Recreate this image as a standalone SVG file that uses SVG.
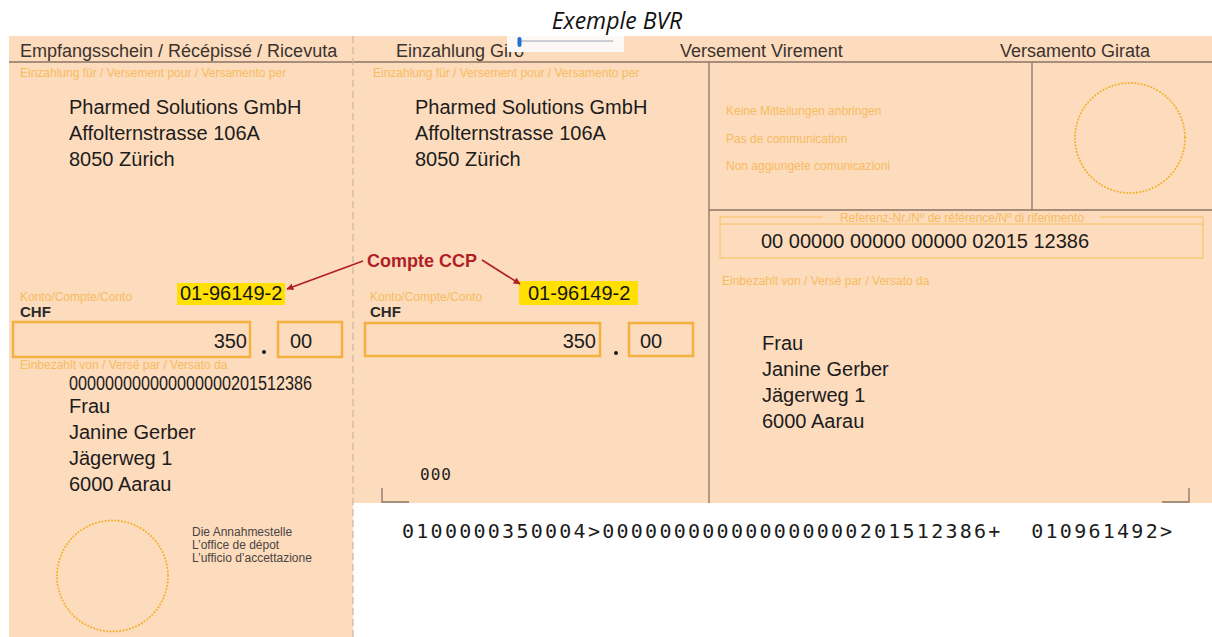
<svg xmlns="http://www.w3.org/2000/svg" width="1212" height="637" viewBox="0 0 1212 637">
<defs>
<style>
.bg{fill:#FDDBBD}
.hdr{font-family:"Liberation Sans",Arial,sans-serif;font-size:18px;fill:#3a332e}
.sm{font-family:"Liberation Sans",Arial,sans-serif;font-size:12px;fill:#F6BC5E}
.tx{font-family:"Liberation Sans",Arial,sans-serif;font-size:20px;fill:#1c1c1c}
.rule{stroke:#8a7566;stroke-width:1.3;fill:none}
.dash{stroke:#c9b5a3;stroke-width:1.2;stroke-dasharray:7 4;fill:none}
.box{fill:none;stroke:#F4B13F;stroke-width:2.5}
.ref{fill:none;stroke:#F6C15A;stroke-width:1}
.stamp{fill:none;stroke:#F2B128;stroke-width:2;stroke-dasharray:0.1 3.2;stroke-linecap:round}
.hl{fill:#FFE000}
.acc{font-family:"Liberation Sans",Arial,sans-serif;font-size:20px;fill:#141414}
.chf{font-family:"Liberation Sans",Arial,sans-serif;font-size:15px;font-weight:bold;fill:#2a2a2a}
.ocr{font-family:"DejaVu Sans Mono",monospace;fill:#1c1c1c}
.note{font-family:"Liberation Sans",Arial,sans-serif;font-size:12px;fill:#4a4440}
.red{stroke:#B01E25;stroke-width:1.6;fill:none}
</style>
<marker id="ah" viewBox="0 0 10 10" refX="9" refY="5" markerWidth="7" markerHeight="7" orient="auto" markerUnits="userSpaceOnUse">
<path d="M0,0 L10,5 L0,10 z" fill="#B01E25"/>
</marker>
</defs>

<rect width="1212" height="637" fill="#ffffff"/>
<text x="617" y="29" text-anchor="middle" font-family="'Open Sans',sans-serif" font-style="italic" font-size="23" fill="#111">Exemple BVR</text>

<g id="form-bg">
<rect class="bg" x="9" y="36" width="1203" height="467"/>
<rect class="bg" x="9" y="503" width="344" height="134"/>
</g>

<g id="header">
<line class="rule" x1="9" y1="62" x2="1212" y2="62"/>
<text class="hdr" x="20" y="57">Empfangsschein / Récépissé / Ricevuta</text>
<text class="hdr" x="396" y="57">Einzahlung Giro</text>
<text class="hdr" x="680" y="57">Versement Virement</text>
<text class="hdr" x="1000" y="57">Versamento Girata</text>
<rect x="507" y="36" width="117" height="16" fill="#FBF8F5"/>
<line x1="521" y1="41" x2="613" y2="41" stroke="#9aa4b0" stroke-width="1"/>
<rect x="517.5" y="37" width="4" height="10" rx="2" fill="#1f6fd6"/>
</g>

<g id="dividers">
<line class="dash" x1="353" y1="36" x2="353" y2="637"/>
<line class="rule" x1="709" y1="62" x2="709" y2="503"/>
<line class="rule" x1="1032" y1="62" x2="1032" y2="210"/>
<line class="rule" x1="709" y1="210" x2="1212" y2="210"/>
</g>

<g id="receipt">
<text class="sm" x="20" y="77">Einzahlung für / Versement pour / Versamento per</text>
<text class="tx" x="69" y="114">Pharmed Solutions GmbH</text>
<text class="tx" x="69" y="140">Affolternstrasse 106A</text>
<text class="tx" x="69" y="166">8050 Zürich</text>
<text class="sm" x="20" y="301">Konto/Compte/Conto</text>
<rect class="hl" x="177" y="283" width="108" height="22"/>
<text class="acc" x="180" y="300">01-96149-2</text>
<text class="chf" x="20" y="317">CHF</text>
<rect class="box" x="13" y="322" width="237" height="35"/>
<rect class="box" x="278" y="322" width="64" height="35"/>
<text class="tx" x="247" y="348" text-anchor="end">350</text>
<circle cx="264" cy="352" r="2" fill="#1c1c1c"/>
<text class="tx" x="290" y="348">00</text>
<text class="sm" x="20" y="369">Einbezahlt von / Versé par / Versato da</text>
<text class="tx" x="69" y="390" font-size="15" textLength="243" lengthAdjust="spacingAndGlyphs">000000000000000000201512386</text>
<text class="tx" x="69" y="413">Frau</text>
<text class="tx" x="69" y="439">Janine Gerber</text>
<text class="tx" x="69" y="465">Jägerweg 1</text>
<text class="tx" x="69" y="491">6000 Aarau</text>
<circle class="stamp" cx="112.5" cy="576" r="55.5"/>
<text class="note" x="192" y="536">Die Annahmestelle</text>
<text class="note" x="192" y="549">L’office de dépot</text>
<text class="note" x="192" y="562">L’ufficio d’accettazione</text>
</g>

<g id="payment-slip">
<text class="sm" x="373" y="77">Einzahlung für / Versement pour / Versamento per</text>
<text class="tx" x="415" y="114">Pharmed Solutions GmbH</text>
<text class="tx" x="415" y="140">Affolternstrasse 106A</text>
<text class="tx" x="415" y="166">8050 Zürich</text>
<text class="sm" x="370" y="301">Konto/Compte/Conto</text>
<rect class="hl" x="519" y="281" width="119" height="24"/>
<text class="acc" x="528" y="300">01-96149-2</text>
<text class="chf" x="370" y="317">CHF</text>
<rect class="box" x="365" y="323" width="235" height="33"/>
<rect class="box" x="629" y="323" width="64" height="33"/>
<text class="tx" x="596" y="348" text-anchor="end">350</text>
<circle cx="616" cy="353" r="2" fill="#1c1c1c"/>
<text class="tx" x="640" y="348">00</text>
<text class="ocr" x="420" y="480" font-size="16" fill="#5a4a40" letter-spacing="1">000</text>
<path class="rule" d="M382,488 V502 H409"/>
</g>

<g id="communication">
<text class="sm" x="726" y="115">Keine Mitteilungen anbringen</text>
<text class="sm" x="726" y="143">Pas de communication</text>
<text class="sm" x="726" y="170">Non aggiungete comunicazioni</text>
<circle class="stamp" cx="1130" cy="138" r="55"/>
</g>

<g id="reference">
<path class="ref" d="M823,217 H720 V258 H1203 V217 H1100"/>
<line class="ref" x1="720" y1="224" x2="1203" y2="224"/>
<text class="sm" x="962" y="222" text-anchor="middle">Referenz-Nr./Nº de référence/Nº di riferimento</text>
<text class="tx" x="761" y="248">00 00000 00000 00000 02015 12386</text>
<text class="sm" x="722" y="285">Einbezahlt von / Versé par / Versato da</text>
<text class="tx" x="762" y="350">Frau</text>
<text class="tx" x="762" y="376">Janine Gerber</text>
<text class="tx" x="762" y="402">Jägerweg 1</text>
<text class="tx" x="762" y="428">6000 Aarau</text>
<path class="rule" d="M1162,502 H1189 V488"/>
</g>

<g id="codeline">
<text class="ocr" x="402" y="538" font-size="20" textLength="770" lengthAdjust="spacing" xml:space="preserve">0100000350004&gt;000000000000000000201512386+  010961492&gt;</text>
</g>

<g id="annotation">
<text x="367" y="267" font-family="'Liberation Sans',Arial,sans-serif" font-size="18" font-weight="bold" fill="#B01E25">Compte CCP</text>
</g>

<g id="connectors">
<line class="red" x1="363" y1="261" x2="287" y2="289" marker-end="url(#ah)"/>
<line class="red" x1="482" y1="260" x2="520" y2="284" marker-end="url(#ah)"/>
</g>
</svg>
